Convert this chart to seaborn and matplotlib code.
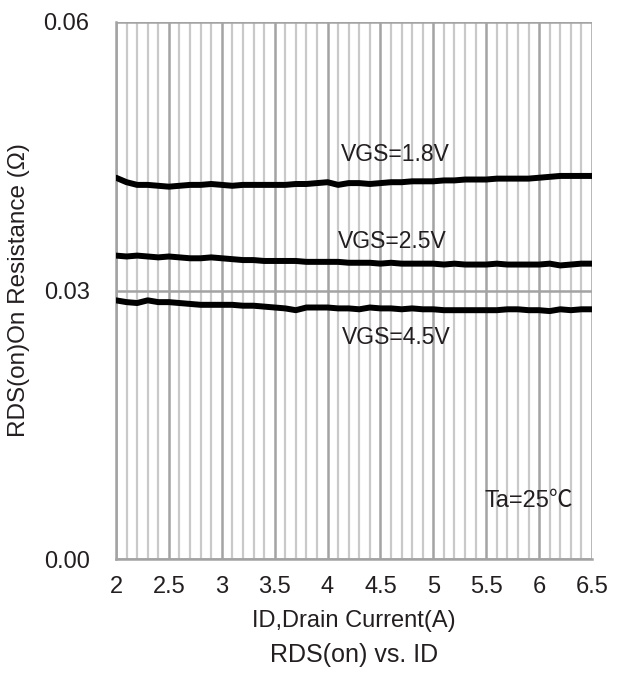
import numpy as np
import pandas as pd
import matplotlib
matplotlib.use("Agg")
import matplotlib.pyplot as plt
import seaborn as sns

# ---- data ----
id_current = [round(2.0 + 0.1 * i, 1) for i in range(46)]

rds_vgs18 = [0.0426, 0.0421, 0.0418, 0.0418, 0.0417, 0.0416, 0.0417, 0.0418, 0.0418, 0.0419,
             0.0418, 0.0417, 0.0418, 0.0418, 0.0418, 0.0418, 0.0418, 0.0419, 0.0419, 0.0420,
             0.0421, 0.0418, 0.0420, 0.0420, 0.0419, 0.0420, 0.0421, 0.0421, 0.0422, 0.0422,
             0.0422, 0.0423, 0.0423, 0.0424, 0.0424, 0.0424, 0.0425, 0.0425, 0.0425, 0.0425,
             0.0426, 0.0427, 0.0428, 0.0428, 0.0428, 0.0428]

rds_vgs25 = [0.0339, 0.0338, 0.0339, 0.0338, 0.0337, 0.0338, 0.0337, 0.0336, 0.0336, 0.0337,
             0.0336, 0.0335, 0.0334, 0.0334, 0.0333, 0.0333, 0.0333, 0.0333, 0.0332, 0.0332,
             0.0332, 0.0332, 0.0331, 0.0331, 0.0331, 0.0330, 0.0331, 0.0330, 0.0330, 0.0330,
             0.0330, 0.0329, 0.0330, 0.0329, 0.0329, 0.0329, 0.0330, 0.0329, 0.0329, 0.0329,
             0.0329, 0.0330, 0.0328, 0.0329, 0.0330, 0.0330]

rds_vgs45 = [0.0289, 0.0287, 0.0286, 0.0289, 0.0287, 0.0287, 0.0286, 0.0285, 0.0284, 0.0284,
             0.0284, 0.0284, 0.0283, 0.0283, 0.0282, 0.0281, 0.0280, 0.0278, 0.0281, 0.0281,
             0.0281, 0.0280, 0.0280, 0.0279, 0.0281, 0.0280, 0.0280, 0.0279, 0.0280, 0.0279,
             0.0279, 0.0278, 0.0278, 0.0278, 0.0278, 0.0278, 0.0278, 0.0279, 0.0279, 0.0278,
             0.0278, 0.0277, 0.0279, 0.0278, 0.0279, 0.0279]

series_names = ["VGS=1.8V", "VGS=2.5V", "VGS=4.5V"]
x_ticks = [2, 2.5, 3, 3.5, 4, 4.5, 5, 5.5, 6, 6.5]
x_tick_labels = ["2", "2.5", "3", "3.5", "4", "4.5", "5", "5.5", "6", "6.5"]
y_ticks = [0.0, 0.03, 0.06]
y_tick_labels = ["0.00", "0.03", "0.06"]

df = pd.DataFrame({
    "ID": id_current * 3,
    "RDS": rds_vgs18 + rds_vgs25 + rds_vgs45,
    "VGS": [series_names[0]] * 46 + [series_names[1]] * 46 + [series_names[2]] * 46,
})

# ---- style ----
sns.set_style("white")
plt.rcParams["font.family"] = ["Liberation Sans", "DejaVu Sans"]
txt = "#231f20"
major_c = "#a3a3a3"
minor_c = "#c9c9c9"

fig = plt.figure(figsize=(6.2, 6.73), dpi=100)
ax = fig.add_axes([116 / 620, 1 - 559 / 673, (592 - 116) / 620, (559 - 22) / 673])

sns.lineplot(data=df, x="ID", y="RDS", hue="VGS", palette=["black"] * 3,
             linewidth=4.3, legend=False, ax=ax, zorder=5)

ax.set_xlim(2, 6.5)
ax.set_ylim(0, 0.06)
ax.set_xticks(x_ticks)
ax.set_xticklabels(x_tick_labels)
ax.set_xticks(np.arange(2, 6.55, 0.1), minor=True)
ax.set_yticks(y_ticks)
ax.set_yticklabels(y_tick_labels)

ax.grid(which="minor", axis="x", color=minor_c, linewidth=1.6, zorder=0)
ax.grid(which="major", axis="x", color=major_c, linewidth=1.8, zorder=1)
ax.grid(which="major", axis="y", color=major_c, linewidth=1.8, zorder=1)
ax.set_axisbelow(True)

for s in ["top", "right"]:
    ax.spines[s].set_visible(False)
for s in ["left", "bottom"]:
    ax.spines[s].set_color(major_c)
    ax.spines[s].set_linewidth(1.8)

ax.tick_params(axis="x", which="major", direction="out", length=6, width=1.8,
               color=major_c, labelsize=17, labelcolor=txt, pad=6)
ax.tick_params(axis="x", which="minor", length=0)
ax.tick_params(axis="y", which="major", direction="out", length=6, width=1.8,
               color=major_c, labelsize=17, labelcolor=txt, pad=13)

ax.set_xlabel("ID,Drain Current(A)", fontsize=17, color=txt, labelpad=9)
ax.set_ylabel("RDS(on)On Resistance (Ω)", fontsize=17.5, color=txt, labelpad=10)

label_x = [4.64, 4.61, 4.65]
label_y = [0.0452, 0.0355, 0.0248]
for name, lx, ly in zip(series_names, label_x, label_y):
    ax.text(lx, ly, name, fontsize=16.5, color=txt, ha="center", va="center", zorder=6)
ax.text(5.90, 0.0065, "Ta=25℃", fontsize=17, color=txt, ha="center", va="center",
        family=["Liberation Sans", "Noto Sans CJK SC", "DejaVu Sans"], zorder=6)

fig.text(0.5 * (116 + 592) / 620, 1 - 655 / 673, "RDS(on) vs. ID", fontsize=18,
         color=txt, ha="center", va="center")

fig.savefig("out.png", dpi=100)
